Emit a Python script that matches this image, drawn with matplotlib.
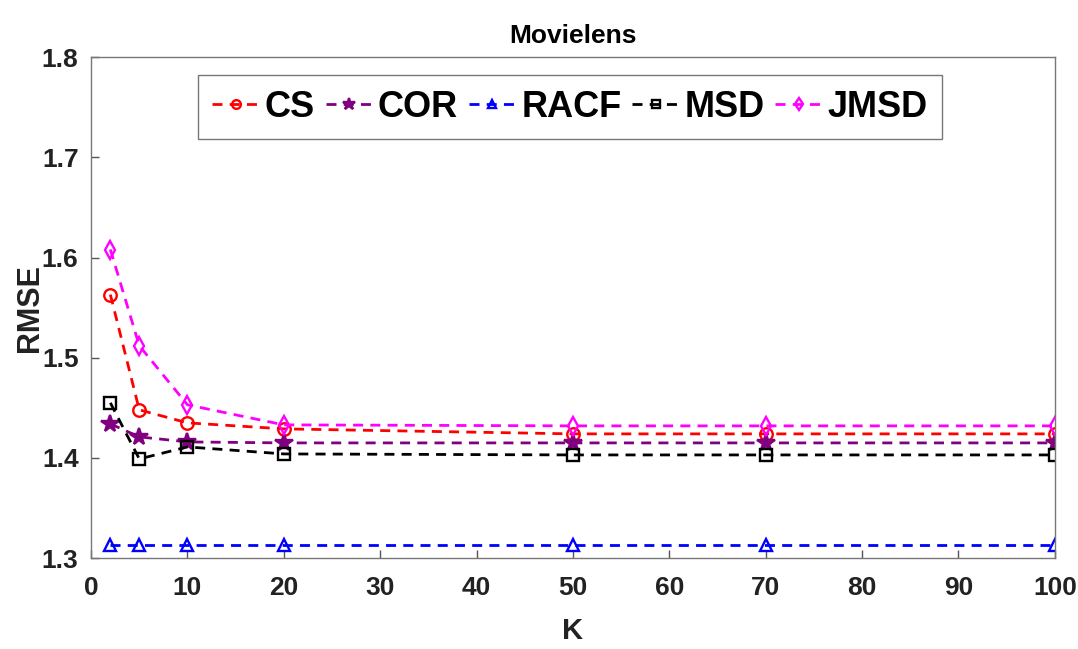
import matplotlib
matplotlib.use("Agg")
import matplotlib.pyplot as plt

plt.rcParams['font.family'] = ['Liberation Sans', 'DejaVu Sans']
plt.rcParams['font.weight'] = 'bold'

k_values = [2, 5, 10, 20, 50, 70, 100]
cs = [1.563, 1.448, 1.435, 1.429, 1.424, 1.424, 1.424]
cor = [1.434, 1.421, 1.416, 1.415, 1.415, 1.415, 1.415]
racf = [1.313, 1.313, 1.313, 1.313, 1.313, 1.313, 1.313]
msd = [1.455, 1.399, 1.411, 1.404, 1.403, 1.403, 1.403]
jmsd = [1.608, 1.512, 1.453, 1.433, 1.432, 1.432, 1.432]

series = [
    ("CS", cs, "red", "o"),
    ("COR", cor, "purple", "*"),
    ("RACF", racf, "blue", "^"),
    ("MSD", msd, "black", "s"),
    ("JMSD", jmsd, "magenta", "d"),
]

fig = plt.figure(figsize=(10.78, 6.49), dpi=100)
ax = fig.add_axes([0.0845, 0.14, 0.894, 0.772])

for name, vals, color, marker in series:
    filled = marker == "*"
    ax.plot(k_values, vals, linestyle="--", color=color, linewidth=2,
            dashes=(3.6, 2.6), marker=marker,
            markersize=13 if filled else 9, markeredgewidth=1.7,
            markerfacecolor=color if filled else "none",
            markeredgecolor=color, label=name)

ax.set_xlim(0, 100)
ax.set_ylim(1.3, 1.8)
ax.set_xticks(range(0, 101, 10))
ax.set_yticks([1.3, 1.4, 1.5, 1.6, 1.7, 1.8])
ax.tick_params(direction="in", length=6, width=1, colors="#555555",
               labelcolor="#222222", labelsize=19, top=False, right=False)
ax.tick_params(axis="x", pad=13)
ax.tick_params(axis="y", pad=9)
for lbl in ax.get_xticklabels() + ax.get_yticklabels():
    lbl.set_fontweight("bold")
for sp in ax.spines.values():
    sp.set_color("#777777")
    sp.set_linewidth(1)

ax.set_title("Movielens", fontsize=19, fontweight="bold", pad=10)
ax.set_xlabel("K", fontsize=21, fontweight="bold", color="#222222", labelpad=12)
ax.set_ylabel("RMSE", fontsize=22, fontweight="bold", color="#222222", labelpad=-2)

leg = ax.legend(loc="upper center", bbox_to_anchor=(0.497, 0.964), ncol=5,
                frameon=True, fancybox=False, handlelength=1.3,
                handletextpad=0.15, columnspacing=0.3, borderpad=0.4,
                borderaxespad=0, markerscale=0.7,
                prop={"weight": "bold", "size": 26})
leg.get_frame().set_edgecolor("#555555")
leg.get_frame().set_linewidth(1)

fig.savefig("out.png", dpi=100)
